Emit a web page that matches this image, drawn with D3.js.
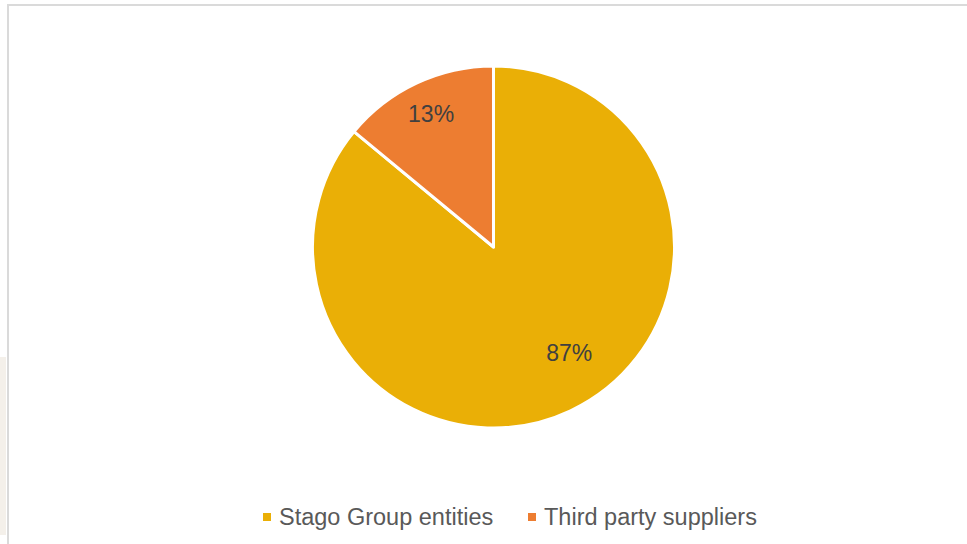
<!DOCTYPE html>
<html>
<head>
<meta charset="utf-8">
<script src="https://cdn.jsdelivr.net/npm/d3@7"></script>
<style>
  html, body { margin: 0; padding: 0; background: #fff; }
  svg { display: block; font-family: "Liberation Sans", Arial, sans-serif; }
</style>
</head>
<body>
<script>
// slice data
const categories = ["Stago Group entities", "Third party suppliers"];
const shares = [86, 14];           // drawn angle of the small slice is ~50 deg
const shareLabels = ["87%", "13%"]; // labels as printed on the chart
const colors = ["#EAAF06", "#ED7D31"];

const W = 967, H = 544;
const cx = 493.5, cy = 247, r = 181;

const svg = d3.select("body").append("svg")
    .attr("width", W)
    .attr("height", H);

// frame remnants from the slide
svg.append("rect").attr("x", 0).attr("y", 357).attr("width", 6).attr("height", 178).attr("fill", "#f4f0ea");
svg.append("rect").attr("x", 7).attr("y", 4).attr("width", W - 7).attr("height", 2).attr("fill", "#dadada");
svg.append("rect").attr("x", 7).attr("y", 4).attr("width", 2).attr("height", H - 4).attr("fill", "#dadada");

const pie = d3.pie().sort(null).value(d => d);
const arcs = pie(shares);

const arc = d3.arc().innerRadius(0).outerRadius(r);

const g = svg.append("g").attr("transform", `translate(${cx},${cy})`);

g.selectAll("path.slice")
    .data(arcs)
    .enter().append("path")
    .attr("class", "slice")
    .attr("d", arc)
    .attr("fill", (d, i) => colors[i])
    .attr("stroke", "#fff")
    .attr("stroke-width", 3)
    .attr("stroke-linejoin", "round");

// label placement: radius fraction and angle tweak (excel best fit)
const labelRadius = [0.72, 0.81];
const labelAngleShift = [-0.18, 0];

g.selectAll("text.lbl")
    .data(arcs)
    .enter().append("text")
    .attr("class", "lbl")
    .attr("transform", (d, i) => {
        const a = (d.startAngle + d.endAngle) / 2 + labelAngleShift[i];
        const rr = r * labelRadius[i];
        return `translate(${rr * Math.sin(a)},${-rr * Math.cos(a)})`;
    })
    .attr("text-anchor", "middle")
    .attr("dy", "0.35em")
    .attr("font-size", 23)
    .attr("fill", "#404040")
    .text((d, i) => shareLabels[i]);

// legend
const legend = svg.append("g").attr("transform", "translate(0,517)");
const legendX = [263, 528];
const items = legend.selectAll("g.item")
    .data(categories)
    .enter().append("g")
    .attr("class", "item")
    .attr("transform", (d, i) => `translate(${legendX[i]},0)`);

items.append("rect")
    .attr("x", 0).attr("y", -4)
    .attr("width", 8).attr("height", 8)
    .attr("fill", (d, i) => colors[i]);

items.append("text")
    .attr("x", 16)
    .attr("dy", "0.35em")
    .attr("font-size", 23.5)
    .attr("fill", "#595959")
    .text(d => d);
</script>
</body>
</html>
